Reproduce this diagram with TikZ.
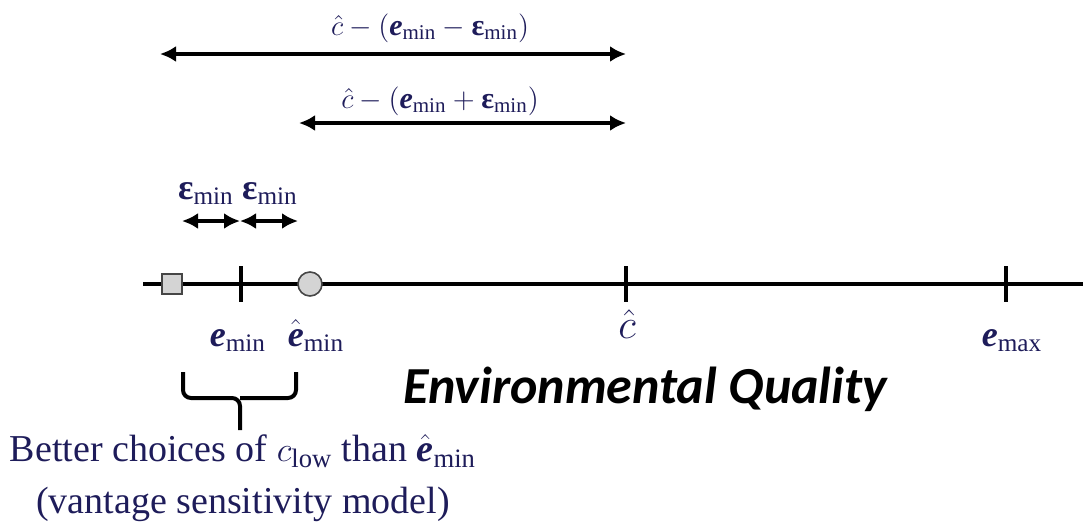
\documentclass[tikz,border=0pt]{standalone}
\usepackage{amsmath}
\usepackage{fontspec}
\setmainfont{Liberation Serif}
\newfontfamily\qualityfont{Carlito}
\usetikzlibrary{arrows.meta, positioning}
\definecolor{labelnavy}{RGB}{30,28,90}
\definecolor{markergray}{RGB}{212,212,212}
\definecolor{markeredge}{RGB}{70,70,70}
\newcommand{\ebf}{\text{\bfseries\itshape e}}
\newcommand{\epsbf}{\text{\bfseries ε}}
\tikzset{
    axisline/.style={
        line width=1.6pt
    },
    tickbar/.style={
        rectangle,
        fill=black,
        inner sep=0pt,
        minimum width=2pt,
        minimum height=18pt
    },
    lowmark/.style={
        rectangle,
        draw=markeredge,
        fill=markergray,
        line width=0.8pt,
        inner sep=0pt,
        minimum size=10pt
    },
    highmark/.style={
        circle,
        draw=markeredge,
        fill=markergray,
        line width=0.8pt,
        inner sep=0pt,
        minimum size=12pt
    },
    spanarrow/.style={
        {Latex[length=8pt,width=8pt]}-{Latex[length=8pt,width=8pt]},
        line width=2pt
    },
    mathlabel/.style={
        text=labelnavy,
        font=\fontsize{18}{20}\selectfont,
        inner sep=0pt,
        anchor=base
    },
    spanlabel/.style={
        mathlabel,
        font=\fontsize{15}{20}\selectfont
    },
    bracepath/.style={
        line width=2pt,
        rounded corners=4pt
    }
}

\begin{document}
\begin{tikzpicture}[x=0.5pt, y=-0.5pt]
    \useasboundingbox (0,0) rectangle (1083,531);

    % axis and marks
    \coordinate (axisL) at (143,284);
    \coordinate (axisR) at (1083,284);
    \draw[axisline] (axisL) -- (axisR);
    \node[tickbar] (emin) at (241,284) {};
    \node[tickbar] (chat) at (626,284) {};
    \node[tickbar] (emax) at (1006,284) {};
    \node[lowmark] (low) at (172,284) {};
    \node[highmark] (ehat) at (310,284) {};

    \node[mathlabel] (eminlbl) at (238,346) {$\ebf_{\mathrm{min}}$};
    \node[mathlabel] (ehatlbl) at (316,346) {$\hat{\ebf}_{\mathrm{min}}$};
    \node[mathlabel, font=\fontsize{20}{20}\selectfont] (chatlbl) at (627,338) {$\hat{c}$};
    \node[mathlabel] (emaxlbl) at (1012,346) {$\ebf_{\mathrm{max}}$};

    % epsilon spans
    \coordinate (epsA) at (182,221);
    \coordinate (epsB) at (240,221);
    \coordinate (epsC) at (298,221);
    \draw[spanarrow] (epsA) -- (epsB);
    \draw[spanarrow] (epsB) -- (epsC);
    \node[mathlabel] (epsleft) at (206,199) {$\epsbf_{\mathrm{min}}$};
    \node[mathlabel] (epsright) at (270,199) {$\epsbf_{\mathrm{min}}$};

    % distance spans
    \coordinate (wideL) at (160,54);
    \coordinate (wideR) at (626,54);
    \coordinate (narrowL) at (299,123);
    \coordinate (narrowR) at (626,123);
    \draw[spanarrow] (wideL) -- (wideR);
    \draw[spanarrow] (narrowL) -- (narrowR);
    \node[spanlabel] (widelbl) at (430,35) {$\hat{c}-(\ebf_{\mathrm{min}}-\epsbf_{\mathrm{min}})$};
    \node[spanlabel] (narrowlbl) at (440,108) {$\hat{c}-(\ebf_{\mathrm{min}}+\epsbf_{\mathrm{min}})$};

    % brace under the better choices
    \coordinate (braceL) at (183,372);
    \coordinate (braceR) at (296,372);
    \coordinate (braceM) at (240,398);
    \coordinate (braceTip) at (240,430);
    \draw[bracepath] (braceL) |- (braceM) -- (braceTip);
    \draw[bracepath] (braceR) |- (braceM);

    \node[text=labelnavy, font=\fontsize{19}{26}\selectfont, align=center, anchor=north, inner sep=0pt]
        (better) at (243,434) {Better choices of $c_{\mathrm{low}}$ than $\hat{\ebf}_{\mathrm{min}}$\\(vantage sensitivity model)};

    \node[font=\qualityfont\bfseries\itshape\fontsize{26}{28}\selectfont, inner sep=0pt, anchor=base]
        (quality) at (645,403) {Environmental Quality};
\end{tikzpicture}
\end{document}
